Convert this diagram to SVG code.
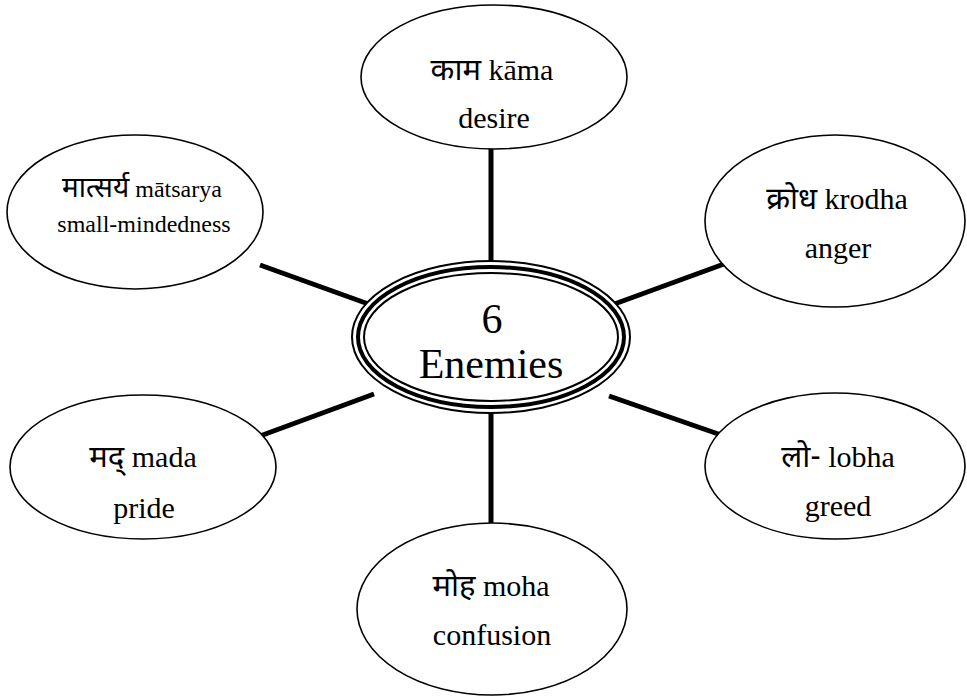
<svg xmlns="http://www.w3.org/2000/svg" width="967" height="697" viewBox="0 0 967 697">
<style>
.node ellipse{fill:#fff;stroke:#000;stroke-width:1.6}
.conn line{stroke:#000;stroke-width:5;stroke-linecap:butt}
text{fill:#000;text-anchor:middle}
.t{font-size:30px}
.s{font-size:24px}
.c{font-size:42px}
.d{font-family:'Noto Sans Devanagari','Noto Serif Devanagari','Lohit Devanagari',sans-serif}
</style>
<rect width="967" height="697" fill="#fff"/>
<g id="connectors" class="conn">
<line x1="491" y1="146" x2="491" y2="264"/>
<line x1="491" y1="410" x2="491" y2="525"/>
<line x1="260" y1="265" x2="374" y2="306"/>
<line x1="260" y1="436" x2="374" y2="394"/>
<line x1="609" y1="306" x2="724" y2="264"/>
<line x1="609" y1="396" x2="724" y2="436"/>
</g>
<g id="center" font-family="'Liberation Serif', 'Times New Roman', 'DejaVu Serif', serif">
<ellipse cx="491" cy="337" rx="139" ry="76" fill="#fff" stroke="#000" stroke-width="2"/>
<ellipse cx="491" cy="337" rx="133" ry="70" fill="none" stroke="#000" stroke-width="4"/>
<ellipse cx="491" cy="337" rx="127" ry="64" fill="none" stroke="#000" stroke-width="2"/>
<text class="c" x="492" y="333">6</text>
<text class="c" x="491" y="378">Enemies</text>
</g>
<g id="kama" class="node" font-family="'Liberation Serif', 'Times New Roman', 'DejaVu Serif', serif">
<ellipse cx="494" cy="77" rx="133" ry="72"/>
<text class="t" x="492" y="80"><tspan class="d" font-size="31px">काम</tspan> kāma</text>
<text class="t" x="494" y="128">desire</text>
</g>
<g id="matsarya" class="node" font-family="'Liberation Serif', 'Times New Roman', 'DejaVu Serif', serif">
<ellipse cx="135" cy="212" rx="128" ry="77"/>
<text class="s" x="142" y="197"><tspan class="d" font-size="28px">मात्सर्य</tspan> mātsarya</text>
<text class="s" x="144" y="232">small-mindedness</text>
</g>
<g id="krodha" class="node" font-family="'Liberation Serif', 'Times New Roman', 'DejaVu Serif', serif">
<ellipse cx="835" cy="221" rx="130" ry="86"/>
<text class="t" x="837" y="209"><tspan class="d" font-size="31px">क्रोध</tspan> krodha</text>
<text class="t" x="838" y="258">anger</text>
</g>
<g id="lobha" class="node" font-family="'Liberation Serif', 'Times New Roman', 'DejaVu Serif', serif">
<ellipse cx="835" cy="466" rx="130" ry="73"/>
<text class="t" x="838" y="467"><tspan class="d" font-size="31px">लो-</tspan> lobha</text>
<text class="t" x="838" y="516">greed</text>
</g>
<g id="mada" class="node" font-family="'Liberation Serif', 'Times New Roman', 'DejaVu Serif', serif">
<ellipse cx="143" cy="467" rx="133" ry="72"/>
<text class="t" x="143" y="467"><tspan class="d" font-size="31px">मद्</tspan> mada</text>
<text class="t" x="144" y="518">pride</text>
</g>
<g id="moha" class="node" font-family="'Liberation Serif', 'Times New Roman', 'DejaVu Serif', serif">
<ellipse cx="492" cy="609" rx="135" ry="86"/>
<text class="t" x="491" y="596"><tspan class="d" font-size="31px">मोह</tspan> moha</text>
<text class="t" x="492" y="645">confusion</text>
</g>
</svg>
